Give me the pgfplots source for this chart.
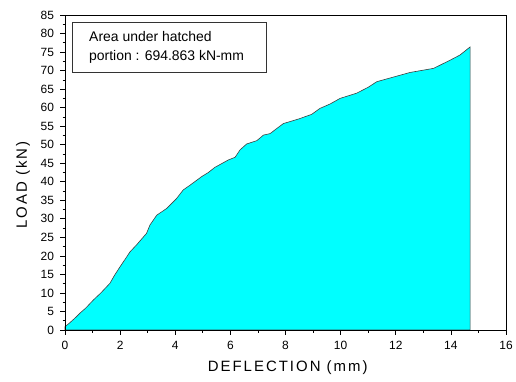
\documentclass[border=0pt]{standalone}
\usepackage{fontspec}
\setmainfont{Liberation Sans}
\usepackage{pgfplots}
\pgfplotsset{compat=1.18}
\definecolor{fillcyan}{RGB}{0,255,255}

\begin{document}
\begin{tikzpicture}[x=1bp,y=1bp]
% fixed canvas around the axis box (441 x 315 bp)
\path[use as bounding box] (-65,-51) rectangle (451,330);
\begin{axis}[
  at={(0,0)}, anchor=origin,
  scale only axis, width=441bp, height=315bp,
  xmin=0, xmax=16, ymin=0, ymax=85,
  axis line style={black, line width=0.8bp},
  xtick={0,2,...,16}, ytick={0,5,...,85},
  minor x tick num=1, minor y tick num=1,
  xtick pos=bottom, ytick pos=left,
  tick align=outside,
  major tick length=4.5bp, minor tick length=2.5bp,
  tick style={black, line width=0.7bp},
  /pgf/number format/assume math mode=true,
  ticklabel style={font=\fontsize{12}{14}\selectfont},
  xticklabel style={yshift=-3bp},
  yticklabel style={xshift=-3bp},
  xlabel={DEFLECTION (mm)},
  ylabel={LOAD (kN)},
  label style={font=\fontsize{15}{17}\selectfont\addfontfeature{LetterSpace=13.5}},
  xlabel style={at={(axis description cs:0.505,0)}, anchor=center, yshift=-38bp},
  ylabel style={at={(axis description cs:0,0.46)}, anchor=center, yshift=42bp},
  axis on top,
  clip=false,
]
\addplot[fill=fillcyan, draw=black!75, line width=0.6bp] coordinates {
  (0,0.9) (0.15,1.8) (0.36,3.2) (0.55,4.6) (0.75,5.9) (1.03,8.1)
  (1.3,10.0) (1.63,12.6) (1.8,14.8) (2.0,17.1) (2.2,19.3) (2.36,21.1)
  (2.6,23.0) (2.96,26.1) (3.08,28.3) (3.33,31.0) (3.69,32.8) (4.05,35.5)
  (4.29,37.8) (4.54,39.1) (4.96,41.4) (5.2,42.5) (5.44,43.9) (5.93,45.9)
  (6.17,46.6) (6.35,48.6) (6.59,50.2) (6.96,51.1) (7.2,52.6) (7.44,53.0)
  (7.92,55.7) (8.5,57.0) (8.95,58.2) (9.25,59.8) (9.62,61.0) (9.98,62.5)
  (10.58,63.9) (11.0,65.5) (11.31,67.0) (11.55,67.5) (12.52,69.5)
  (13.37,70.6) (13.97,72.8) (14.33,74.2) (14.70,76.4)
} \closedcycle;
% annotation box
\draw[black!80, line width=0.8bp] (axis cs:0.254,69.6) rectangle (axis cs:7.293,83.1);
\node[anchor=west, align=left, inner sep=0pt,
      font=\fontsize{14}{19}\selectfont]
  at (axis cs:0.871,76.2) {Area under hatched\\portion : 694.863 kN-mm};
\end{axis}
\end{tikzpicture}
\end{document}
